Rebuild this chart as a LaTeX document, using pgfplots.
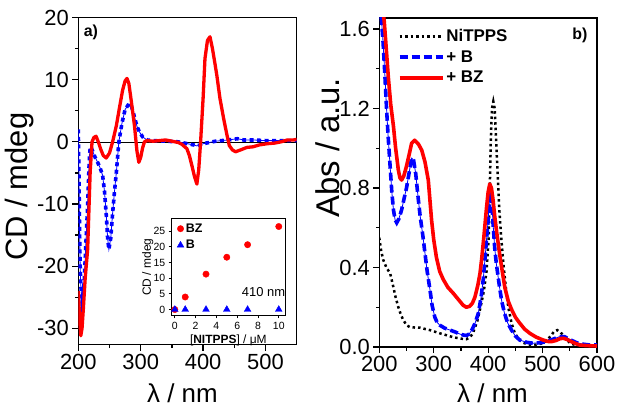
\documentclass[border=0pt]{standalone}
\usepackage{fontspec}
\setmainfont{Liberation Sans}
\usepackage{pgfplots}
\pgfplotsset{compat=1.18}
\definecolor{cdred}{RGB}{255,0,0}
\definecolor{cdblue}{RGB}{0,0,255}

\pgfplotsset{
  panel/.style={
    scale only axis,
    axis line style={line width=1.5bp},
    tick align=outside, xtick pos=bottom, ytick pos=left,
    major tick length=6bp, minor tick length=3.5bp,
    tick style={black, line width=1.3bp},
    tick label style={font=\fontsize{22}{24}\selectfont},
    /pgf/number format/assume math mode=true,
  },
  bzline/.style={cdred, line width=3.3bp, line join=round},
  bthin/.style={cdblue, line width=0.8bp},
}

\begin{document}
\begin{tikzpicture}
\useasboundingbox (0,0) rectangle (621bp,409bp);

% ---- a) CD spectra
\begin{axis}[panel,
    at={(78.3bp,64.5bp)}, anchor=south west,
    width=218.4bp, height=327bp,
    xmin=200, xmax=550, ymin=-32.6, ymax=20,
    xtick={200,300,400,500}, minor x tick num=1,
    ytick={-30,-20,-10,0,10,20}, yticklabels={-30,-20,-10,0,10,20},
    minor y tick num=1,
    xlabel={λ / nm}, ylabel={CD / mdeg},
    xlabel style={font=\fontsize{26}{28}\selectfont, at={(axis description cs:0.477,-0.148)}, anchor=center},
    ylabel style={font=\fontsize{31}{33}\selectfont, at={(axis description cs:-0.27,0.483)}, anchor=center},
  ]
\addplot[black, line width=0.6bp, forget plot] coordinates {(200,0) (550,0)};

% B
\addplot[bthin] coordinates {
(200,2)(201,-5)(202,-14)(203,-20)(204,-23)(206,-25.8)(208,-24.5)(209.7,-22)
(212.5,-15.6)(215,-10.3)(217,-4.5)(218,-2.2)(219,-1.1)(220,-0.8)(223,-1.5)
(227,-2.5)(231,-3.3)(235,-4.2)(239,-5.4)(242,-8)(245,-12)(247,-15.5)(249,-17.3)
(252,-15.5)(255,-11.5)(258,-8)(261,-4.9)(265,0)(270,3)(275,5.2)(281,6.1)
(285,5.8)(290,4)(294,2.5)(298,1.6)(303,0.8)(310,0.3)(320,0.2)(340,0.1)(360,0)
(375,-0.3)(385,-0.5)(390,-0.65)(395,-0.5)(400,-0.3)(410,-0.1)(420,0.1)(430,0.2)
(440,0.3)(455,0.5)(465,0.3)(480,0.3)(500,0.2)(520,0.2)(540,0.2)(550,0.2)};
\addplot[cdblue, line width=3.6bp, dash pattern=on 4bp off 3.5bp] coordinates {
(200,2)(201,-5)(202,-14)(203,-20)(204,-23)(206,-25.8)(208,-24.5)(209.7,-22)
(212.5,-15.6)(215,-10.3)(217,-4.5)(218,-2.2)(219,-1.1)(220,-0.8)(223,-1.5)
(227,-2.5)(231,-3.3)(235,-4.2)(239,-5.4)(242,-8)(245,-12)(247,-15.5)(249,-17.3)
(252,-15.5)(255,-11.5)(258,-8)(261,-4.9)(265,0)(270,3)(275,5.2)(281,6.1)
(285,5.8)(290,4)(294,2.5)(298,1.6)(303,0.8)(310,0.3)(320,0.2)(340,0.1)(360,0)
(375,-0.3)(385,-0.5)(390,-0.65)(395,-0.5)(400,-0.3)(410,-0.1)(420,0.1)(430,0.2)
(440,0.3)(455,0.5)(465,0.3)(480,0.3)(500,0.2)(520,0.2)(540,0.2)(550,0.2)};

% BZ
\addplot[bzline] coordinates {
(200,-24)(202,-28)(204,-31.2)(206,-30)(208,-27)(211,-22)(215,-17.3)(219,-4.9)
(222,0)(225,0.7)(228.5,0.9)(232,0)(236,-1.2)(240,-2.2)(244.7,-2.6)(250,-1.8)
(255,0)(261,2.6)(266,5.5)(271,8.3)(275,9.8)(278,10.2)(281,9.4)(285,6.5)
(290,2.6)(294,-1.5)(297,-3.3)(300,-2.5)(303,-1)(306,0)(310,0.2)(320,0.1)
(330,0.2)(340,0.3)(350,0.1)(360,-0.1)(366,-0.4)(374,-1.1)(378,-2.2)(382,-3.8)
(386,-5.5)(390,-6.8)(393,-4.5)(396,0)(400,7)(403,13.4)(407,16.3)(411,16.9)
(415,15)(418,13.2)(422,10.7)(427,7)(433,3.7)(438,1.2)(442,-0.6)(447,-1.3)
(452,-1.6)(460,-1.3)(470,-0.9)(480,-0.8)(490,-0.5)(503,-0.3)(515,-0.2)(525,0)
(535,0.3)(545,0.3)(550,0.4)};

\node[font=\bfseries\fontsize{16}{18}\selectfont] at (rel axis cs:0.058,0.953) {a)};
\end{axis}

% ---- inset
\begin{axis}[
    scale only axis,
    at={(171.7bp,93.5bp)}, anchor=south west,
    width=113.3bp, height=96.5bp,
    axis background/.style={fill=white},
    axis line style={line width=1bp},
    tick align=outside, xtick pos=bottom, ytick pos=left,
    major tick length=3bp,
    tick style={black, line width=0.8bp},
    tick label style={font=\fontsize{10.5}{11}\selectfont},
    /pgf/number format/assume math mode=true,
    xmin=-0.3, xmax=10.6, ymin=-1.9, ymax=28.9,
    xtick={0,2,4,6,8,10}, ytick={0,5,10,15,20,25},
    xlabel={[\textbf{NITPPS}] / μM}, ylabel={CD / mdeg},
    label style={font=\fontsize{12}{13}\selectfont},
    xlabel style={at={(axis description cs:0.5,-0.16)}, anchor=north},
    ylabel style={at={(axis description cs:-0.21,0.5)}, anchor=center},
    legend style={at={(0.02,0.995)}, anchor=north west, draw=none, fill=none,
      font=\bfseries\fontsize{12.5}{13}\selectfont, row sep=2.5bp},
    legend cell align=left,
  ]
\addplot[only marks, mark=*, mark size=3.2bp, color=cdred] coordinates {
(0,0)(1,4)(3,11.3)(5,16.7)(7,20.7)(10,26.5)};
\addlegendentry{BZ}
\addplot[only marks, mark=triangle*, mark size=3.9bp, color=cdblue] coordinates {
(0,0)(1,0)(3,0)(5,0)(7,0)(10,0)};
\addlegendentry{B}
\node[font=\fontsize{13}{14}\selectfont] at (rel axis cs:0.81,0.24) {410 nm};
\end{axis}

% ---- b) absorption spectra
\begin{axis}[panel,
    at={(379.3bp,62bp)}, anchor=south west,
    width=217.7bp, height=329bp,
    xmin=200, xmax=600, ymin=0, ymax=1.655,
    xtick={200,300,400,500,600}, minor x tick num=1,
    ytick={0,0.4,0.8,1.2,1.6}, yticklabels={0.0,0.4,0.8,1.2,1.6},
    minor y tick num=1,
    xlabel={λ / nm}, ylabel={Abs / a.u.},
    xlabel style={font=\fontsize{26}{28}\selectfont, at={(axis description cs:0.52,-0.14)}, anchor=center},
    ylabel style={font=\fontsize{33}{35}\selectfont, at={(axis description cs:-0.236,0.605)}, anchor=center},
    legend style={at={(0.07,0.978)}, anchor=north west, draw=none, fill=none,
      font=\bfseries\fontsize{17}{19}\selectfont, row sep=3.5bp},
    legend cell align=left,
    legend image code/.code={\draw[#1] (0bp,0bp) -- (43bp,0bp);},
  ]
\addplot[black, line width=2.5bp, dash pattern=on 2.5bp off 3bp] coordinates {
(200,0.55)(203,0.49)(207,0.44)(213,0.40)(220,0.37)(226,0.30)(230,0.25)(235,0.20)
(240,0.16)(244,0.136)(250,0.11)(256,0.10)(265,0.098)(275,0.097)(285,0.09)
(293,0.085)(302,0.077)(311,0.069)(320,0.062)(336,0.049)(350,0.042)(360,0.039)
(367,0.05)(372,0.069)(380,0.13)(386,0.20)(392,0.28)(397,0.38)(401,0.55)(403,0.8)
(405,1.05)(407,1.2)(409.5,1.235)(412,1.2)(414,1.08)(416,0.95)(418,0.84)(421,0.67)
(424,0.55)(428,0.42)(432,0.31)(437,0.20)(443,0.12)(449,0.07)(456,0.04)(464,0.022)
(472,0.014)(482,0.01)(492,0.013)(501,0.02)(509,0.035)(516,0.06)(522,0.08)
(527,0.085)(532,0.075)(538,0.06)(544,0.04)(550,0.02)(560,0.01)(575,0.006)(600,0.005)};
\addlegendentry{NiTPPS}

\addplot[bthin, forget plot] coordinates {
(200,1.72)(204,1.645)(207,1.53)(210,1.38)(213.5,1.19)(216,1.07)(219.6,0.92)(223,0.78)
(226,0.69)(229,0.64)(232,0.625)(236,0.645)(241,0.69)(245,0.74)(250,0.80)(255,0.88)
(259.4,0.95)(263,0.94)(267,0.87)(271,0.76)(275,0.66)(280,0.56)(284,0.47)(288,0.38)
(293,0.29)(297,0.21)(302,0.15)(306,0.125)(311,0.11)(320,0.095)(330,0.085)(340,0.075)
(348,0.065)(355,0.06)(360,0.058)(365,0.065)(370,0.085)(376,0.12)(382,0.17)(387,0.25)
(391,0.34)(395,0.47)(400,0.64)(403,0.76)(405,0.78)(407,0.72)(409,0.62)(412,0.5)
(415,0.42)(418,0.36)(421,0.30)(425,0.23)(430,0.17)(436,0.12)(443,0.085)(450,0.055)
(458,0.035)(470,0.024)(482,0.019)(495,0.021)(507,0.027)(520,0.04)(531,0.052)
(540,0.052)(550,0.038)(562,0.022)(575,0.014)(587,0.01)(600,0.01)};
\addplot[cdblue, line width=3.6bp, dash pattern=on 8bp off 4bp] coordinates {
(200,1.72)(204,1.645)(207,1.53)(210,1.38)(213.5,1.19)(216,1.07)(219.6,0.92)(223,0.78)
(226,0.69)(229,0.64)(232,0.625)(236,0.645)(241,0.69)(245,0.74)(250,0.80)(255,0.88)
(259.4,0.95)(263,0.94)(267,0.87)(271,0.76)(275,0.66)(280,0.56)(284,0.47)(288,0.38)
(293,0.29)(297,0.21)(302,0.15)(306,0.125)(311,0.11)(320,0.095)(330,0.085)(340,0.075)
(348,0.065)(355,0.06)(360,0.058)(365,0.065)(370,0.085)(376,0.12)(382,0.17)(387,0.25)
(391,0.34)(395,0.47)(400,0.64)(403,0.76)(405,0.78)(407,0.72)(409,0.62)(412,0.5)
(415,0.42)(418,0.36)(421,0.30)(425,0.23)(430,0.17)(436,0.12)(443,0.085)(450,0.055)
(458,0.035)(470,0.024)(482,0.019)(495,0.021)(507,0.027)(520,0.04)(531,0.052)
(540,0.052)(550,0.038)(562,0.022)(575,0.014)(587,0.01)(600,0.01)};
\addlegendentry{+ B}

\addplot[bzline, line width=3.6bp] coordinates {
(200,1.9)(203,1.8)(206,1.7)(209,1.64)(212,1.53)(216.5,1.36)(221,1.22)(226,1.11)
(230,1.0)(235,0.89)(238,0.85)(241,0.84)(245,0.86)(250,0.91)(255,0.97)(259.4,1.025)
(265,1.04)(272,1.02)(278,0.99)(284,0.93)(290,0.84)(293,0.74)(296,0.64)(300,0.54)
(305,0.45)(311,0.38)(317.5,0.34)(326,0.30)(336,0.27)(345,0.24)(354,0.21)(360,0.20)
(366,0.205)(371,0.22)(375.6,0.25)(381,0.31)(385,0.37)(388,0.44)(392,0.55)(397,0.70)
(400,0.78)(403,0.82)(406,0.80)(409,0.74)(412,0.66)(416,0.57)(421.5,0.46)(426,0.38)
(430.6,0.30)(437,0.23)(443.5,0.186)(450,0.15)(458,0.12)(467,0.09)(476.5,0.069)
(488,0.05)(501,0.035)(510,0.028)(516,0.027)(525,0.033)(532,0.042)(538,0.044)
(545,0.038)(553,0.027)(560,0.018)(568,0.01)(580,0.007)(600,0.005)};
\addlegendentry{+ BZ}

\node[font=\bfseries\fontsize{16}{18}\selectfont] at (rel axis cs:0.922,0.948) {b)};
\end{axis}
\end{tikzpicture}
\end{document}
